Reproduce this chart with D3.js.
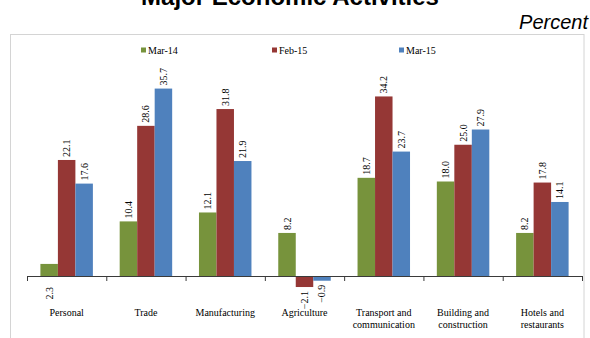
<!DOCTYPE html>
<html>
<head>
<meta charset="utf-8">
<script src="https://cdn.jsdelivr.net/npm/d3@7"></script>
<style>
  body { margin: 0; background: #fff; }
  svg { display: block; }
</style>
</head>
<body>
<svg id="chart" width="590" height="338"></svg>
<script>
// Activity categories and the three survey periods
const categories = [
  "Personal",
  "Trade",
  "Manufacturing",
  "Agriculture",
  "Transport and communication",
  "Building and construction",
  "Hotels and restaurants"
];
const seriesNames = ["Mar-14", "Feb-15", "Mar-15"];
const mar14 = [2.3, 10.4, 12.1, 8.2, 18.7, 18.0, 8.2];
const feb15 = [22.1, 28.6, 31.8, -2.1, 34.2, 25.0, 17.8];
const mar15 = [17.6, 35.7, 21.9, -0.9, 23.7, 27.9, 14.1];
const seriesColors = ["#77933c", "#953735", "#4f81bd"];

const seriesValues = [mar14, feb15, mar15];
const rows = categories.map((c, i) => ({
  category: c,
  values: seriesNames.map((s, j) => ({ series: s, value: seriesValues[j][i], color: seriesColors[j] }))
}));

const svg = d3.select("#chart");
const serif = "'Liberation Serif', 'Times New Roman', serif";
const sans = "'Liberation Sans', Arial, sans-serif";

// Title (partly above the page edge) and unit note
svg.append("text")
  .attr("x", 290).attr("y", 5)
  .attr("text-anchor", "middle")
  .style("font-family", sans).style("font-weight", "bold").style("font-size", "24px")
  .attr("fill", "#000")
  .text("Major Economic Activities");

svg.append("text")
  .attr("x", 588).attr("y", 29)
  .attr("text-anchor", "end")
  .style("font-family", sans).style("font-style", "italic").style("font-size", "20px")
  .attr("fill", "#000")
  .text("Percent");

// Plot frame
svg.append("rect")
  .attr("x", 10.5).attr("y", 34.5)
  .attr("width", 573.5).attr("height", 320)
  .attr("fill", "none")
  .attr("stroke", "#d4d4d4");

// Scales
const x0 = d3.scaleBand().domain(categories).range([27, 582]).paddingInner(0).paddingOuter(0);
const x1 = d3.scaleBand().domain(seriesNames).range([0, x0.bandwidth()]).paddingInner(0).paddingOuter(0.766);
const y = d3.scaleLinear().domain([-5, 40]).range([302.25, 66]);
const xEdges = d3.scaleLinear().domain([0, categories.length]).range(x0.range());

// Legend
const legend = svg.append("g");
const legendX = [141, 272, 399];
seriesNames.forEach((s, j) => {
  const g = legend.append("g").attr("transform", `translate(${legendX[j]},50)`);
  g.append("rect").attr("x", 0).attr("y", -2.5).attr("width", 5).attr("height", 5).attr("fill", seriesColors[j]);
  g.append("text").attr("x", 7).attr("y", 3.6)
    .style("font-family", serif).style("font-size", "10px").attr("fill", "#000")
    .text(s);
});

// Bars
const groups = svg.append("g").selectAll("g")
  .data(rows)
  .join("g")
  .attr("transform", d => `translate(${x0(d.category)},0)`);

groups.selectAll("rect")
  .data(d => d.values)
  .join("rect")
  .attr("x", d => x1(d.series))
  .attr("y", d => y(Math.max(0, d.value)))
  .attr("width", x1.bandwidth())
  .attr("height", d => Math.abs(y(d.value) - y(0)))
  .attr("fill", d => d.color);

// Value labels, rotated to read upward
groups.selectAll("text.val")
  .data(d => d.values)
  .join("text")
  .attr("class", "val")
  .attr("transform", d => {
    const cx = x1(d.series) + x1.bandwidth() / 2;
    let ty;
    if (d.value < 0) ty = y(d.value) + 4;
    else if (d.value < 3) ty = y(0) + 11;
    else ty = y(d.value) - 3;
    return `translate(${cx},${ty}) rotate(-90)`;
  })
  .attr("dy", "0.35em")
  .attr("text-anchor", d => (d.value < 3 ? "end" : "start"))
  .style("font-family", serif).style("font-size", "10px")
  .attr("fill", "#000")
  .text(d => d3.format(".1f")(d.value));

// Category axis with ticks on the band edges
svg.append("g")
  .attr("transform", `translate(0,${y(0)})`)
  .call(d3.axisBottom(xEdges).tickValues(d3.range(categories.length + 1)).tickSize(5).tickSizeOuter(0).tickFormat(""))
  .call(g => g.selectAll("path, line").attr("stroke", "#3a3a3a"));

// Category names, broken after "and"
const wrapName = name => {
  const k = name.indexOf(" and ");
  return k < 0 ? [name] : [name.slice(0, k + 4), name.slice(k + 5)];
};
svg.append("g").selectAll("text")
  .data(categories)
  .join("text")
  .attr("x", d => x0(d) + x0.bandwidth() / 2)
  .attr("y", 316)
  .attr("text-anchor", "middle")
  .style("font-family", serif).style("font-size", "10px")
  .attr("fill", "#000")
  .each(function (d) {
    d3.select(this).selectAll("tspan")
      .data(wrapName(d))
      .join("tspan")
      .attr("x", x0(d) + x0.bandwidth() / 2)
      .attr("dy", (t, i) => (i === 0 ? 0 : 11.7))
      .text(t => t);
  });
</script>
</body>
</html>
